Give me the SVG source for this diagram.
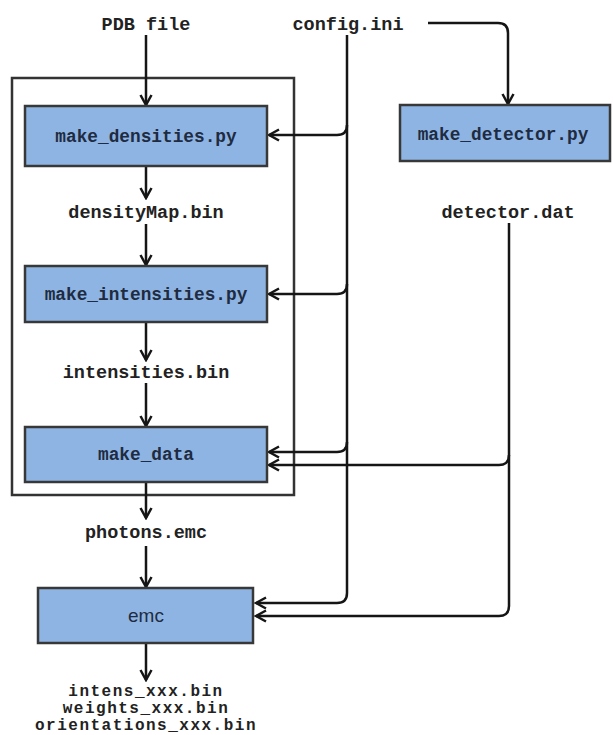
<svg xmlns="http://www.w3.org/2000/svg" width="613" height="735" viewBox="0 0 613 735">
<style>
.box{fill:#8eb4e3;stroke:#383838;stroke-width:2.5}
.outer{fill:none;stroke:#333;stroke-width:2.5}
.bt{font-family:"Liberation Mono","Courier New",monospace;font-size:17.8px;font-weight:bold;fill:#1e2b40;text-anchor:middle}
.lb{font-family:"Liberation Mono","Courier New",monospace;font-size:18.5px;font-weight:bold;fill:#222;text-anchor:middle}
.out{font-family:"Liberation Mono","Courier New",monospace;font-size:16px;letter-spacing:1.5px;font-weight:bold;fill:#222;text-anchor:middle}
.sans{font-family:"Liberation Sans",Arial,sans-serif;font-size:19px;font-weight:normal}
.c{fill:none;stroke:#151515;stroke-width:2.5}
.a{marker-end:url(#arr)}
</style>
<defs>
<marker id="arr" markerUnits="userSpaceOnUse" markerWidth="14" markerHeight="14" viewBox="0 0 14 14" refX="12" refY="7" orient="auto">
<path d="M2,1.5 L12,7 L2,12.5" fill="none" stroke="#151515" stroke-width="2.5" stroke-linejoin="miter"/>
</marker>
</defs>
<rect class="outer" x="12" y="78" width="282" height="417"/>
<g id="connectors">
<path class="c a" d="M146,35 V105"/>
<path class="c a" d="M428,23 H498 Q508,23 508,33 V104"/>
<path class="c a" d="M347,35 V593 Q347,603 337,603 H256"/>
<path class="c a" d="M347,125 Q347,135 337,135 H269"/>
<path class="c a" d="M347,284 Q347,294 337,294 H269"/>
<path class="c a" d="M347,442 Q347,452 337,452 H269"/>
<path class="c a" d="M509,223 V606 Q509,616 499,616 H256"/>
<path class="c a" d="M509,455 Q509,465 499,465 H269"/>
<path class="c a" d="M146,166 V198"/>
<path class="c a" d="M146,224 V265"/>
<path class="c a" d="M146,322 V360"/>
<path class="c a" d="M146,383 V426"/>
<path class="c a" d="M146,482 V518"/>
<path class="c a" d="M146,546 V587"/>
<path class="c a" d="M146,643 V680"/>
</g>
<g id="pdb_file"><text class="lb" x="146" y="30">PDB file</text></g>
<g id="config_ini"><text class="lb" x="348" y="30">config.ini</text></g>
<g id="make_densities"><rect class="box" x="25" y="106" width="242" height="60"/><text class="bt" x="146" y="142">make_densities.py</text></g>
<g id="densitymap_bin"><text class="lb" x="146" y="218">densityMap.bin</text></g>
<g id="make_intensities"><rect class="box" x="25" y="266" width="242" height="56"/><text class="bt" x="146" y="300">make_intensities.py</text></g>
<g id="intensities_bin"><text class="lb" x="146" y="378">intensities.bin</text></g>
<g id="make_data"><rect class="box" x="25" y="427" width="242" height="55"/><text class="bt" x="146" y="460">make_data</text></g>
<g id="photons_emc"><text class="lb" x="146" y="538">photons.emc</text></g>
<g id="emc"><rect class="box" x="38" y="588" width="215" height="55"/><text class="bt sans" x="146" y="622">emc</text></g>
<g id="outputs"><text class="out" x="146" y="696">intens_xxx.bin</text><text class="out" x="146" y="713">weights_xxx.bin</text><text class="out" x="146" y="730">orientations_xxx.bin</text></g>
<g id="make_detector"><rect class="box" x="400" y="105" width="210" height="56"/><text class="bt" x="503" y="140">make_detector.py</text></g>
<g id="detector_dat"><text class="lb" x="508" y="218">detector.dat</text></g>
</svg>
